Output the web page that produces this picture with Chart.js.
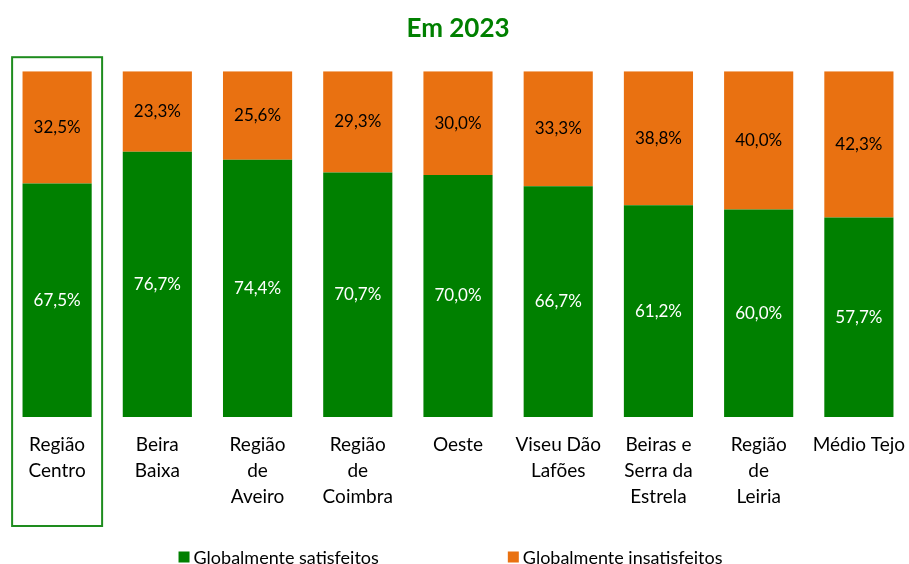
<!DOCTYPE html>
<html>
<head>
<meta charset="utf-8">
<script src="https://cdn.jsdelivr.net/npm/chart.js@4"></script>
<style>
  html, body { margin: 0; padding: 0; background: #fff; }
  #wrap { width: 909px; height: 564px; }
</style>
</head>
<body>
<div id="wrap"><canvas id="chart"></canvas></div>
<script>
const regions = [
  ['Região', 'Centro'], ['Beira', 'Baixa'], ['Região', 'de', 'Aveiro'], ['Região', 'de', 'Coimbra'],
  'Oeste', ['Viseu Dão', 'Lafões'], ['Beiras e', 'Serra da', 'Estrela'], ['Região', 'de', 'Leiria'], 'Médio Tejo'
];
const satisfeitos = [67.5, 76.7, 74.4, 70.7, 70.0, 66.7, 61.2, 60.0, 57.7];
const insatisfeitos = [32.5, 23.3, 25.6, 29.3, 30.0, 33.3, 38.8, 40.0, 42.3];

const GREEN = '#008000';
const ORANGE = '#E97111';
const FONT = 'Lato, "Liberation Sans", sans-serif';

const fmt = v => v.toFixed(1).replace('.', ',') + '%';

// value labels in the middle of each segment
const segmentLabels = {
  id: 'segmentLabels',
  afterDatasetsDraw(chart) {
    const ctx = chart.ctx;
    ctx.save();
    ctx.font = '17px ' + FONT;
    ctx.textAlign = 'center';
    ctx.textBaseline = 'middle';
    chart.data.datasets.forEach((ds, i) => {
      chart.getDatasetMeta(i).data.forEach((bar, j) => {
        ctx.fillStyle = i === 0 ? '#ffffff' : '#000000';
        ctx.fillText(fmt(ds.data[j]), bar.x, (bar.y + bar.base) / 2);
      });
    });
    ctx.restore();
  }
};

// highlight frame round the first region
const highlight = {
  id: 'highlight',
  afterDraw(chart) {
    const x = chart.scales.x;
    const area = chart.chartArea;
    const cx = x.getPixelForValue(0);
    const ctx = chart.ctx;
    ctx.save();
    ctx.strokeStyle = '#1E8C1E';
    ctx.lineWidth = 2;
    ctx.strokeRect(cx - 45, area.top - 14, 90, area.bottom - area.top + 123);
    ctx.restore();
  }
};

// legend with wide spacing like the original
const wideLegend = {
  id: 'wideLegend',
  afterDraw(chart) {
    const ctx = chart.ctx;
    ctx.save();
    ctx.font = '18px ' + FONT;
    ctx.textBaseline = 'middle';
    const box = 11, gapText = 4, gapItems = 129;
    const items = chart.data.datasets.map(ds => ({
      text: ds.label, color: ds.backgroundColor,
      w: box + gapText + ctx.measureText(ds.label).width
    }));
    const total = items.reduce((s, it) => s + it.w, 0) + gapItems * (items.length - 1);
    let x = (chart.width - total) / 2 - 4;
    const y = chart.height - 7;
    items.forEach(it => {
      ctx.fillStyle = it.color;
      ctx.fillRect(x, y - box / 2, box, box);
      ctx.fillStyle = '#000';
      ctx.fillText(it.text, x + box + gapText, y + 1);
      x += it.w + gapItems;
    });
    ctx.restore();
  }
};

new Chart(document.getElementById('chart'), {
  type: 'bar',
  data: {
    labels: regions,
    datasets: [
      { label: 'Globalmente satisfeitos', data: satisfeitos, backgroundColor: GREEN,
        barPercentage: 0.69, categoryPercentage: 1 },
      { label: 'Globalmente insatisfeitos', data: insatisfeitos, backgroundColor: ORANGE,
        barPercentage: 0.69, categoryPercentage: 1 }
    ]
  },
  options: {
    responsive: true,
    maintainAspectRatio: false,
    animation: false,
    layout: { padding: { left: 7, right: 0, bottom: 47 } },
    scales: {
      x: {
        stacked: true,
        grid: { display: false },
        border: { display: false },
        // let the last category reach the right edge
        afterFit: scale => { scale.paddingLeft = 0; scale.paddingRight = 0; },
        ticks: {
          color: '#000', padding: 7, maxRotation: 0, autoSkip: false,
          font: { family: FONT, size: 19, lineHeight: 26 / 19 }
        }
      },
      y: { stacked: true, min: 0, max: 100, display: false }
    },
    plugins: {
      legend: { display: false },
      tooltip: { enabled: false },
      title: {
        display: true,
        text: 'Em 2023',
        color: GREEN,
        font: { family: FONT, size: 26, weight: 'bold', lineHeight: 1.2 },
        padding: { top: 13, bottom: 27 }
      }
    }
  },
  plugins: [segmentLabels, highlight, wideLegend]
});
</script>
</body>
</html>
